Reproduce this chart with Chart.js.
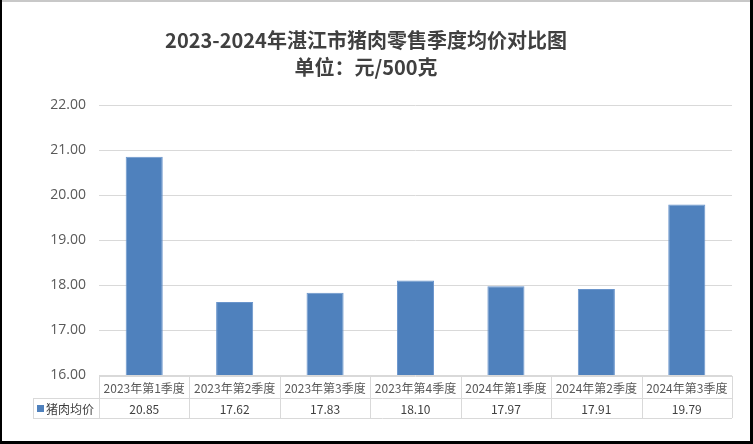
<!DOCTYPE html>
<html><head><meta charset="utf-8">
<script src="https://cdn.jsdelivr.net/npm/chart.js@4.4.0/dist/chart.umd.min.js"></script>
<style>
html,body{margin:0;padding:0;background:#fff;}
#wrap{position:relative;width:753px;height:444px;}
</style></head>
<body><div id="wrap"><canvas id="c" width="753" height="444"></canvas></div>
<script>
const titleLines = ['2023-2024年湛江市猪肉零售季度均价对比图', '单位：元/500克'];
const categories = ['2023年第1季度','2023年第2季度','2023年第3季度','2023年第4季度','2024年第1季度','2024年第2季度','2024年第3季度'];
const seriesName = '猪肉均价';
const prices = [20.85, 17.62, 17.83, 18.10, 17.97, 17.91, 19.79];
const yMin = 16, yMax = 22, yStep = 1;

const barColor = '#4F81BD';
const cjk = '"Noto Sans CJK SC", "Noto Sans", sans-serif';

const tablePlugin = {
  id: 'dataTable',
  afterDraw(chart) {
    const ctx = chart.ctx;
    const x = chart.scales.x;
    const area = chart.chartArea;
    const n = categories.length;
    const half = (x.getPixelForValue(1) - x.getPixelForValue(0)) / 2;
    const left = x.getPixelForValue(0) - half;
    const right = x.getPixelForValue(n - 1) + half;
    const r0 = area.bottom + 1, r1 = r0 + 22, r2 = r1 + 20;
    const legLeft = 33;
    ctx.save();
    ctx.strokeStyle = '#D9D9D9';
    ctx.lineWidth = 1;
    ctx.beginPath();
    ctx.moveTo(left, r0 + 0.5); ctx.lineTo(right, r0 + 0.5);
    ctx.moveTo(legLeft, r1 + 0.5); ctx.lineTo(right, r1 + 0.5);
    ctx.moveTo(legLeft, r2 + 0.5); ctx.lineTo(right, r2 + 0.5);
    ctx.moveTo(legLeft + 0.5, r1); ctx.lineTo(legLeft + 0.5, r2);
    for (let i = 0; i <= n; i++) {
      const xx = Math.round(left + i * half * 2) + 0.5;
      ctx.moveTo(xx, r0); ctx.lineTo(xx, r2);
    }
    ctx.stroke();
    ctx.textAlign = 'center';
    ctx.textBaseline = 'middle';
    ctx.font = '12px ' + cjk;
    ctx.fillStyle = '#595959';
    categories.forEach((c, i) => ctx.fillText(c, x.getPixelForValue(i), (r0 + r1) / 2 + 1));
    ctx.fillStyle = '#404040';
    prices.forEach((v, i) => ctx.fillText(v.toFixed(2), x.getPixelForValue(i), (r1 + r2) / 2 + 1));
    ctx.fillStyle = barColor;
    ctx.fillRect(legLeft + 4, (r1 + r2) / 2 - 3, 7, 7);
    ctx.fillStyle = '#404040';
    ctx.textAlign = 'left';
    ctx.fillText(seriesName, legLeft + 13, (r1 + r2) / 2 + 1);
    ctx.fillStyle = '#C8C8C8';
    ctx.fillRect(0, 0, 753, 2);
    ctx.fillStyle = '#000';
    ctx.fillRect(0, 0, 2, 444);
    ctx.fillRect(750, 0, 3, 444);
    ctx.fillRect(0, 441, 753, 3);
    ctx.restore();
  }
};

new Chart(document.getElementById('c'), {
  type: 'bar',
  data: {
    labels: categories,
    datasets: [{
      label: seriesName,
      data: prices,
      backgroundColor: barColor,
      borderColor: '#6A95CC',
      borderWidth: 1,
      barPercentage: 0.41,
      categoryPercentage: 1
    }]
  },
  options: {
    responsive: false,
    animation: false,
    devicePixelRatio: 1,
    layout: { padding: { left: 0, right: 21, top: 0, bottom: 69 } },
    plugins: {
      legend: { display: false },
      tooltip: { enabled: false },
      title: {
        display: true,
        text: titleLines,
        color: '#404040',
        font: { family: cjk, size: 20, weight: 'bold', lineHeight: 1.35 },
        padding: { top: 27, bottom: 24 }
      }
    },
    scales: {
      x: { display: false, offset: true },
      y: {
        min: yMin, max: yMax,
        afterFit(s) { s.width = 99; },
        border: { display: false },
        grid: { color: '#D9D9D9', drawTicks: false, lineWidth: 1 },
        ticks: {
          stepSize: yStep,
          padding: 13,
          color: '#595959',
          font: { family: '"Open Sans", "Noto Sans", sans-serif', size: 14 },
          callback: v => Number(v).toFixed(2)
        }
      }
    }
  },
  plugins: [tablePlugin]
});
</script></body></html>
